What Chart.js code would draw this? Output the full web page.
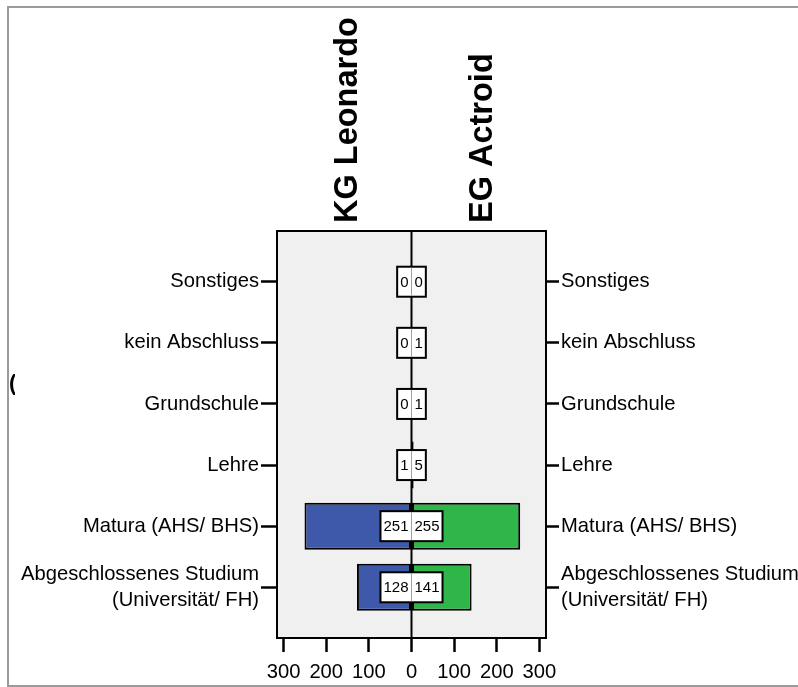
<!DOCTYPE html>
<html><head><meta charset="utf-8">
<script src="https://cdn.jsdelivr.net/npm/chart.js@4.4.0/dist/chart.umd.min.js"></script>
<style>html,body{margin:0;padding:0;background:#fff;}#wrap{width:798px;height:687px;position:relative;}</style>
</head><body><div id="wrap"><canvas id="c"></canvas></div>
<script>
// ---- data ----
const categories = ['Sonstiges', 'kein Abschluss', 'Grundschule', 'Lehre', 'Matura (AHS/ BHS)', 'Abgeschlossenes Studium\n(Universität/ FH)'];
const groupNames = ['KG Leonardo', 'EG Actroid'];
const kgLeonardo = [0, 0, 0, 1, 251, 128];
const egActroid = [0, 1, 1, 5, 255, 141];
const xTickValues = [-300, -200, -100, 0, 100, 200, 300];

// ---- font detection ----
function fontAvailable(name) {
  const c = document.createElement('canvas').getContext('2d');
  const s = 'Matura (AHS/ BHS) 0123456789';
  c.font = '40px monospace'; const a = c.measureText(s).width;
  c.font = '40px "' + name + '", monospace'; const b = c.measureText(s).width;
  return a !== b;
}
const hasNarrow = fontAvailable('Liberation Sans Narrow');
const FAM = hasNarrow ? '"Liberation Sans Narrow", "Arial Narrow", sans-serif' : '"Liberation Sans", Arial, sans-serif';
const K = hasNarrow ? 1 : 0.86;
const VK = hasNarrow ? 1 : 0.91;
const BOLDFAM = '"Liberation Sans", Arial, sans-serif';

const BLUE = '#3E59AA', GREEN = '#2FB648';

const deco = {
  id: 'deco',
  beforeDraw(chart) {
    const {ctx, chartArea: a} = chart;
    ctx.save();
    ctx.strokeStyle = '#9a9a9a'; ctx.lineWidth = 2;
    ctx.strokeRect(8, 7, 800, 679);
    ctx.fillStyle = '#F0F0F0';
    ctx.fillRect(a.left, a.top, a.right - a.left, a.bottom - a.top);
    ctx.restore();
  },
  afterDatasetsDraw(chart) {
    const {ctx, chartArea: a, scales} = chart;
    const xs = scales.x, ys = scales.y;
    const x0 = xs.getPixelForValue(0);
    ctx.save();
    // center line
    ctx.strokeStyle = '#000'; ctx.lineWidth = 2;
    ctx.beginPath(); ctx.moveTo(x0, a.top); ctx.lineTo(x0, a.bottom); ctx.stroke();
    // plot border
    ctx.strokeRect(a.left, a.top, a.right - a.left, a.bottom - a.top);
    // value boxes
    ctx.font = (16.5 * VK) + 'px ' + FAM;
    const pad = 3, h = 30;
    categories.forEach((c, i) => {
      const y = ys.getPixelForValue(i);
      const lt = String(kgLeonardo[i]), rt = String(egActroid[i]);
      const lw = ctx.measureText(lt).width + 2 * pad;
      const rw = ctx.measureText(rt).width + 2 * pad;
      ctx.fillStyle = '#fff';
      ctx.fillRect(x0 - lw, y - h / 2, lw + rw, h);
      ctx.strokeStyle = '#000'; ctx.lineWidth = 2;
      ctx.strokeRect(x0 - lw, y - h / 2, lw + rw, h);
      ctx.strokeStyle = '#a0a0a0'; ctx.lineWidth = 1;
      ctx.beginPath(); ctx.moveTo(x0, y - h / 2 + 1); ctx.lineTo(x0, y + h / 2 - 1); ctx.stroke();
      ctx.fillStyle = '#000'; ctx.textAlign = 'center'; ctx.textBaseline = 'middle';
      ctx.fillText(lt, x0 - lw / 2, y + 1);
      ctx.fillText(rt, x0 + rw / 2, y + 1);
    });
    // group titles
    ctx.font = 'bold 32.5px ' + BOLDFAM;
    ctx.fillStyle = '#000'; ctx.textAlign = 'left'; ctx.textBaseline = 'alphabetic';
    const centers = [(a.left + x0) / 2, (x0 + a.right) / 2];
    groupNames.forEach((n, k) => {
      ctx.save();
      ctx.translate(centers[k] + 13, a.top - 8);
      ctx.rotate(-Math.PI / 2);
      ctx.fillText(n, 0, 0);
      ctx.restore();
    });
    // clipped remnant glyph at left frame
    ctx.save();
    ctx.beginPath(); ctx.rect(10, 370, 5, 25); ctx.clip();
    ctx.font = 'bold 22px ' + BOLDFAM; ctx.fillStyle = '#000';
    ctx.fillText('(', 9, 390);
    ctx.restore();
    ctx.restore();
  }
};

const yTicksBuild = s => { s.ticks = categories.map((_, i) => ({value: i})); };
const yTickCb = v => (categories[v] !== undefined ? categories[v].split('\n') : '');
const catFont = {family: FAM, size: 23.5 * K, lineHeight: 1.08 / K};

new Chart(document.getElementById('c'), {
  type: 'bar',
  data: {
    datasets: [
      {label: groupNames[0], data: kgLeonardo.map((v, i) => ({x: -v, y: i})), backgroundColor: BLUE, borderColor: '#000', borderWidth: 2, borderSkipped: false, grouped: false, yAxisID: 'y'},
      {label: groupNames[1], data: egActroid.map((v, i) => ({x: v, y: i})), backgroundColor: GREEN, borderColor: '#000', borderWidth: 2, borderSkipped: false, grouped: false, yAxisID: 'y'}
    ]
  },
  options: {
    indexAxis: 'y',
    responsive: true,
    maintainAspectRatio: false,
    animation: false,
    layout: {padding: {top: 231, left: 0, right: 0, bottom: 0}},
    categoryPercentage: 1,
    barPercentage: 0.77,
    plugins: {legend: {display: false}, tooltip: {enabled: false}},
    scales: {
      x: {
        type: 'linear', position: 'bottom', min: -315.5, max: 315.5, offset: false,
        afterBuildTicks: s => { s.ticks = xTickValues.map(v => ({value: v})); },
        afterFit: s => { s.height = 49; },
        ticks: {callback: v => String(Math.abs(v)), color: '#000', font: {family: FAM, size: 23.5 * K}, padding: 8, maxRotation: 0, autoSkip: false},
        grid: {offset: false, drawOnChartArea: false, drawTicks: true, tickLength: 14, tickWidth: 2.5, tickColor: '#000'},
        border: {display: false}
      },
      y: {
        type: 'linear', position: 'left', min: -0.83, max: 5.83, reverse: true, offset: false,
        afterBuildTicks: yTicksBuild,
        afterFit: s => { s.width = 277; },
        ticks: {callback: yTickCb, color: '#000', font: catFont, padding: 2, autoSkip: false},
        grid: {offset: false, drawOnChartArea: false, drawTicks: true, tickLength: 16, tickWidth: 2.5, tickColor: '#000'},
        border: {display: false}
      },
      y2: {
        type: 'linear', position: 'right', display: true, min: -0.83, max: 5.83, reverse: true, offset: false,
        afterBuildTicks: yTicksBuild,
        afterFit: s => { s.width = 252; },
        ticks: {callback: yTickCb, color: '#000', font: catFont, padding: 2, autoSkip: false},
        grid: {offset: false, drawOnChartArea: false, drawTicks: true, tickLength: 13, tickWidth: 2.5, tickColor: '#000'},
        border: {display: false}
      }
    }
  },
  plugins: [deco]
});
</script>
</body></html>
